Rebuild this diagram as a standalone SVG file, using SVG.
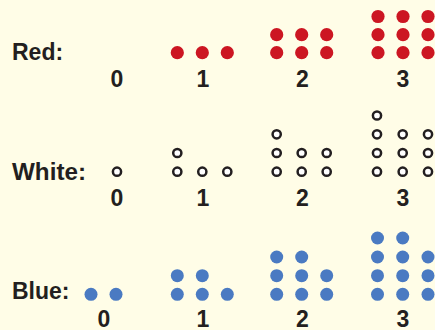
<svg xmlns="http://www.w3.org/2000/svg" width="435" height="330" viewBox="0 0 435 330">
<style>
text{font-family:"Liberation Sans",Arial,sans-serif;font-weight:bold;font-size:23px;fill:#231f20}
.n{text-anchor:middle}
.r{fill:#cc1622}
.b{fill:#4a7ac2}
.w{fill:#ffffff;stroke:#231f20;stroke-width:2.5}
</style>
<defs>
<circle id="rd" r="6.6" class="r"/>
<circle id="bd" r="6.5" class="b"/>
<circle id="wd" r="4.1" class="w"/>
</defs>
<rect width="435" height="330" fill="#fffde7"/>
<g id="red">
<text x="12" y="60">Red:</text>
<g id="red-0"><text class="n" x="117" y="87">0</text></g>
<g id="red-1">
<use href="#rd" x="177.3" y="52.7"/><use href="#rd" x="202.3" y="52.7"/><use href="#rd" x="227.3" y="52.7"/>
<text class="n" x="203" y="87">1</text></g>
<g id="red-2">
<use href="#rd" x="276.7" y="34.7"/><use href="#rd" x="301.7" y="34.7"/><use href="#rd" x="326.7" y="34.7"/>
<use href="#rd" x="276.7" y="52.7"/><use href="#rd" x="301.7" y="52.7"/><use href="#rd" x="326.7" y="52.7"/>
<text class="n" x="302.5" y="87">2</text></g>
<g id="red-3">
<use href="#rd" x="378" y="16.5"/><use href="#rd" x="403" y="16.5"/><use href="#rd" x="428" y="16.5"/>
<use href="#rd" x="378" y="34.7"/><use href="#rd" x="403" y="34.7"/><use href="#rd" x="428" y="34.7"/>
<use href="#rd" x="378" y="52.7"/><use href="#rd" x="403" y="52.7"/><use href="#rd" x="428" y="52.7"/>
<text class="n" x="403" y="87">3</text></g>
</g>
<g id="white">
<text x="12" y="180" textLength="74" lengthAdjust="spacingAndGlyphs">White:</text>
<g id="white-0">
<use href="#wd" x="117" y="171.7"/>
<text class="n" x="117" y="205.5">0</text></g>
<g id="white-1">
<use href="#wd" x="177.3" y="153"/>
<use href="#wd" x="177.3" y="171.7"/><use href="#wd" x="202.3" y="171.7"/><use href="#wd" x="227.3" y="171.7"/>
<text class="n" x="203" y="205.5">1</text></g>
<g id="white-2">
<use href="#wd" x="276.7" y="134.3"/>
<use href="#wd" x="276.7" y="153"/><use href="#wd" x="301.7" y="153"/><use href="#wd" x="326.7" y="153"/>
<use href="#wd" x="276.7" y="171.7"/><use href="#wd" x="301.7" y="171.7"/><use href="#wd" x="326.7" y="171.7"/>
<text class="n" x="302.5" y="205.5">2</text></g>
<g id="white-3">
<use href="#wd" x="377" y="115.5"/>
<use href="#wd" x="377" y="134.3"/><use href="#wd" x="402.7" y="134.3"/><use href="#wd" x="428" y="134.3"/>
<use href="#wd" x="377" y="153"/><use href="#wd" x="402.7" y="153"/><use href="#wd" x="428" y="153"/>
<use href="#wd" x="377" y="171.7"/><use href="#wd" x="402.7" y="171.7"/><use href="#wd" x="428" y="171.7"/>
<text class="n" x="403" y="205.5">3</text></g>
</g>
<g id="blue">
<text x="12" y="299">Blue:</text>
<g id="blue-0">
<use href="#bd" x="91" y="294.3"/><use href="#bd" x="116" y="294.3"/>
<text class="n" x="104" y="326.5">0</text></g>
<g id="blue-1">
<use href="#bd" x="177.3" y="275.7"/><use href="#bd" x="202.3" y="275.7"/>
<use href="#bd" x="177.3" y="294.3"/><use href="#bd" x="202.3" y="294.3"/><use href="#bd" x="227.3" y="294.3"/>
<text class="n" x="203" y="326.5">1</text></g>
<g id="blue-2">
<use href="#bd" x="276.7" y="257"/><use href="#bd" x="301.7" y="257"/>
<use href="#bd" x="276.7" y="275.7"/><use href="#bd" x="301.7" y="275.7"/><use href="#bd" x="326.7" y="275.7"/>
<use href="#bd" x="276.7" y="294.3"/><use href="#bd" x="301.7" y="294.3"/><use href="#bd" x="326.7" y="294.3"/>
<text class="n" x="302.5" y="326.5">2</text></g>
<g id="blue-3">
<use href="#bd" x="377.5" y="238"/><use href="#bd" x="402.7" y="238"/>
<use href="#bd" x="377.5" y="257"/><use href="#bd" x="402.7" y="257"/><use href="#bd" x="428" y="257"/>
<use href="#bd" x="377.5" y="275.7"/><use href="#bd" x="402.7" y="275.7"/><use href="#bd" x="428" y="275.7"/>
<use href="#bd" x="377.5" y="294.3"/><use href="#bd" x="402.7" y="294.3"/><use href="#bd" x="428" y="294.3"/>
<text class="n" x="403" y="326.5">3</text></g>
</g>
</svg>
